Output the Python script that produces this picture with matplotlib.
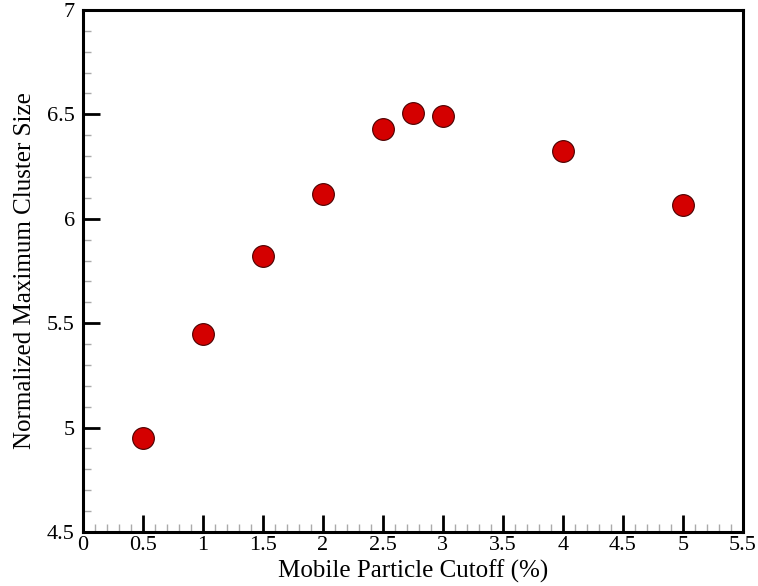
import matplotlib.pyplot as plt
from matplotlib.ticker import MultipleLocator

# mobile particle cutoff (%) vs normalized maximum cluster size
cutoff = [0.5, 1.0, 1.5, 2.0, 2.5, 2.75, 3.0, 4.0, 5.0]
cluster_size = [4.95, 5.448, 5.822, 6.12, 6.43, 6.507, 6.493, 6.325, 6.066]

plt.rcParams['font.family'] = ['Liberation Serif', 'DejaVu Serif']

fig = plt.figure(figsize=(7.58, 5.86), dpi=100)
ax = fig.add_axes([0.1095, 0.0922, 0.8705, 0.8908])

ax.scatter(cutoff, cluster_size, s=245, color='#d40000', edgecolors='#4a0000',
           linewidths=0.8, zorder=3)

ax.set_xlim(0, 5.5)
ax.set_ylim(4.5, 7)
ax.xaxis.set_major_locator(MultipleLocator(0.5))
ax.xaxis.set_minor_locator(MultipleLocator(0.1))
ax.yaxis.set_major_locator(MultipleLocator(0.5))
ax.yaxis.set_minor_locator(MultipleLocator(0.1))
ax.xaxis.set_major_formatter(lambda v, p: f'{v:g}')
ax.yaxis.set_major_formatter(lambda v, p: f'{v:g}')

ax.tick_params(which='major', direction='in', length=12, width=2, labelsize=16,
               top=False, right=False, color='black')
ax.tick_params(which='minor', direction='in', length=6, width=1,
               top=False, right=False, color='#aaaaaa')
ax.tick_params(axis='x', pad=3)
ax.tick_params(axis='y', pad=6)
for sp in ax.spines.values():
    sp.set_linewidth(2.2)

ax.set_xlabel('Mobile Particle Cutoff (%)', fontsize=18, labelpad=3)
ax.set_ylabel('Normalized Maximum Cluster Size', fontsize=18, labelpad=8)

fig.savefig('out.png', dpi=100)
